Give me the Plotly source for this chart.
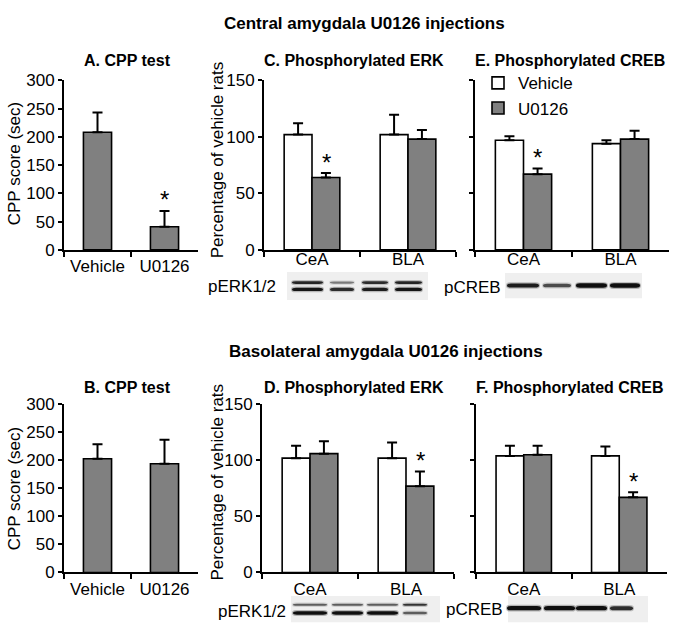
import plotly.graph_objects as go

# ---------------- data ----------------
cpp_groups = ["Vehicle", "U0126"]
regions = ["CeA", "BLA"]

# A. CPP test (central amygdala injections)
cpp_cea_mean = [208, 41]
cpp_cea_sem = [35, 28]
# B. CPP test (basolateral amygdala injections)
cpp_bla_mean = [203, 194]
cpp_bla_sem = [26, 43]

# C. pERK, CeA injections
erk_cea_vehicle = [102, 102]
erk_cea_vehicle_sem = [10, 17.5]
erk_cea_u0126 = [64, 98]
erk_cea_u0126_sem = [4, 8]
# E. pCREB, CeA injections
creb_cea_vehicle = [97, 94]
creb_cea_vehicle_sem = [3.5, 3]
creb_cea_u0126 = [67, 98]
creb_cea_u0126_sem = [5, 7.5]
# D. pERK, BLA injections
erk_bla_vehicle = [102, 102]
erk_bla_vehicle_sem = [11, 14]
erk_bla_u0126 = [106, 77]
erk_bla_u0126_sem = [11, 13]
# F. pCREB, BLA injections
creb_bla_vehicle = [104, 104]
creb_bla_vehicle_sem = [9, 8.5]
creb_bla_u0126 = [105, 67]
creb_bla_u0126_sem = [8, 4.5]

# significance markers: (panel, category)
stars_cpp = [("A", "U0126")]
stars_prot = [("C", "CeA"), ("E", "CeA"), ("D", "BLA"), ("F", "BLA")]

# western blot band intensities (lane order: Veh CeA, U0126 CeA, Veh BLA, U0126 BLA)
blot_c_upper = [0.85, 0.35, 0.8, 0.85]
blot_c_lower = [0.95, 0.8, 0.9, 0.95]
blot_e = [0.9, 0.6, 1.0, 1.0]
blot_d_upper = [0.5, 0.5, 0.5, 0.75]
blot_d_lower = [1.0, 1.0, 1.0, 0.5]
blot_f = [1.0, 1.0, 1.0, 0.8]

# ---------------- layout helpers ----------------
W, H = 677, 639
FONT = "Liberation Sans, Arial, sans-serif"
GRAY = "#808080"


def fx(p):
    return p / W


def fy(p):
    return 1 - p / H


fig = go.Figure()

panels = {
    # key: (axis index, x px domain, y px domain (bottom, top))
    "A": (1, (64, 198), (248.3, 73.5)),
    "C": (2, (264, 456), (248.3, 73.5)),
    "E": (3, (475, 669), (248.3, 73.5)),
    "B": (4, (64, 198), (580.7, 407.5)),
    "D": (5, (262, 454), (580.7, 407.5)),
    "F": (6, (476, 667), (580.7, 407.5)),
}


def ax(name, i):
    return name if i == 1 else f"{name}{i}"


def err(sem):
    return dict(type="data", array=sem, arrayminus=[0] * len(sem), symmetric=False,
                color="black", thickness=2, width=5)


bar_line = dict(color="black", width=1.6)

# CPP panels
for key, mean, sem in [("A", cpp_cea_mean, cpp_cea_sem), ("B", cpp_bla_mean, cpp_bla_sem)]:
    i = panels[key][0]
    fig.add_trace(go.Bar(x=cpp_groups, y=mean, error_y=err(sem), width=0.42,
                         marker=dict(color=GRAY, line=bar_line), showlegend=False,
                         xaxis=ax("x", i), yaxis=ax("y", i)))

# protein panels
prot = {
    "C": (erk_cea_vehicle, erk_cea_vehicle_sem, erk_cea_u0126, erk_cea_u0126_sem),
    "E": (creb_cea_vehicle, creb_cea_vehicle_sem, creb_cea_u0126, creb_cea_u0126_sem),
    "D": (erk_bla_vehicle, erk_bla_vehicle_sem, erk_bla_u0126, erk_bla_u0126_sem),
    "F": (creb_bla_vehicle, creb_bla_vehicle_sem, creb_bla_u0126, creb_bla_u0126_sem),
}
for key, (vm, vs, um, us) in prot.items():
    i = panels[key][0]
    show = key == "C"
    fig.add_trace(go.Bar(x=regions, y=vm, error_y=err(vs), name="Vehicle",
                         marker=dict(color="white", line=bar_line), showlegend=show,
                         legendgroup="veh", xaxis=ax("x", i), yaxis=ax("y", i)))
    fig.add_trace(go.Bar(x=regions, y=um, error_y=err(us), name="U0126",
                         marker=dict(color=GRAY, line=bar_line), showlegend=show,
                         legendgroup="u", xaxis=ax("x", i), yaxis=ax("y", i)))

# axes
for key, (i, (x0, x1), (yb, yt)) in panels.items():
    is_cpp = key in ("A", "B")
    xd = dict(
        domain=[fx(x0), fx(x1)], anchor=ax("y", i), type="category",
        showline=True, linecolor="black", linewidth=2, ticks="outside",
        tickson="boundaries", ticklen=5, tickwidth=2, tickcolor="black",
        tickfont=dict(size=17, color="black", family=FONT), showgrid=False,
        zeroline=False, fixedrange=True)
    if key in ("C", "E"):
        xd["ticklabelstandoff"] = -7
    fig.layout[ax("xaxis", i)] = xd
    fig.layout[ax("yaxis", i)] = dict(
        domain=[fy(yb), fy(yt)], anchor=ax("x", i),
        range=[0, 300] if is_cpp else [0, 150], dtick=50,
        showline=True, linecolor="black", linewidth=2, ticks="outside",
        ticklen=4, tickwidth=2, tickcolor="black", showgrid=False, zeroline=False,
        tickfont=dict(size=17, color="black", family=FONT),
        showticklabels=key not in ("E", "F"), fixedrange=True)

annotations = []

# y-axis titles
y_titles = [("CPP score (sec)", 14, 160), ("CPP score (sec)", 14, 495),
            ("Percentage of vehicle rats", 217, 156), ("Percentage of vehicle rats", 217, 488)]
for t, x, y in y_titles:
    annotations.append(dict(text=t, x=fx(x), y=fy(y), xref="paper", yref="paper",
                            textangle=-90, showarrow=False, xanchor="center", yanchor="middle",
                            font=dict(size=17, family=FONT, color="black")))


# significance stars anchored to bar top + error
def add_star(key, cat, y):
    i = panels[key][0]
    xshift = 0 if key in ("A", "B") else 14
    annotations.append(dict(text="*", x=cat, y=y, xref=ax("x", i), yref=ax("y", i),
                            showarrow=False, xanchor="center", yanchor="middle",
                            yshift=11, xshift=xshift,
                            font=dict(size=24, family=FONT, color="black")))


for key, cat in stars_cpp:
    j = cpp_groups.index(cat)
    add_star(key, cat, cpp_cea_mean[j] + cpp_cea_sem[j])
for key, cat in stars_prot:
    j = regions.index(cat)
    vm, vs, um, us = prot[key]
    add_star(key, cat, um[j] + us[j])

# headings
bold = dict(family=FONT, color="black")
annotations.append(dict(text="<b>Central amygdala U0126 injections</b>", x=fx(364), y=fy(15),
                        xref="paper", yref="paper", showarrow=False,
                        xanchor="center", yanchor="middle", font=dict(size=17, **bold)))
annotations.append(dict(text="<b>Basolateral amygdala U0126 injections</b>", x=fx(386), y=fy(353),
                        xref="paper", yref="paper", showarrow=False,
                        xanchor="center", yanchor="middle", font=dict(size=17, **bold)))
panel_titles = [
    ("A. CPP test", 127, 53), ("C. Phosphorylated ERK", 354, 53), ("E. Phosphorylated CREB", 570, 53),
    ("B. CPP test", 127, 390), ("D. Phosphorylated ERK", 354, 390), ("F. Phosphorylated CREB", 570, 390),
]
for t, x, y in panel_titles:
    annotations.append(dict(text=f"<b>{t}</b>", x=fx(x), y=fy(y), xref="paper", yref="paper",
                            showarrow=False, xanchor="center", yanchor="middle",
                            font=dict(size=16, **bold)))

# blot labels
for t, xr, y in [("pERK1/2", 278, 286), ("pCREB", 503, 287), ("pERK1/2", 288, 621), ("pCREB", 505, 619)]:
    annotations.append(dict(text=t, x=fx(xr), y=fy(y), xref="paper", yref="paper",
                            xanchor="right", yanchor="middle", showarrow=False,
                            font=dict(size=17, family=FONT, color="black")))

# blot drawings (decoration)
shapes = []


def band_path(x0, x1, yc, h):
    r = min(4.0, (x1 - x0) / 4)
    yt, yb = yc - h / 2, yc + h / 2
    pts = [
        f"M{fx(x0):.5f},{fy(yc):.5f}",
        f"Q{fx(x0):.5f},{fy(yt):.5f} {fx(x0 + r):.5f},{fy(yt):.5f}",
        f"L{fx(x1 - r):.5f},{fy(yt):.5f}",
        f"Q{fx(x1):.5f},{fy(yt):.5f} {fx(x1):.5f},{fy(yc):.5f}",
        f"Q{fx(x1):.5f},{fy(yb):.5f} {fx(x1 - r):.5f},{fy(yb):.5f}",
        f"L{fx(x0 + r):.5f},{fy(yb):.5f}",
        f"Q{fx(x0):.5f},{fy(yb):.5f} {fx(x0):.5f},{fy(yc):.5f}Z",
    ]
    return " ".join(pts)


def blot(area, lanes, bands):
    (ax0, ay0, ax1, ay1) = area
    shapes.append(dict(type="rect", xref="paper", yref="paper", x0=fx(ax0), x1=fx(ax1),
                       y0=fy(ay1), y1=fy(ay0), fillcolor="#efefef", line=dict(width=0), layer="below"))
    for (yc, hgt, vals) in bands:
        for (lx0, lx1), v in zip(lanes, vals):
            h = hgt * (0.6 + 0.4 * v)
            shapes.append(dict(type="path", xref="paper", yref="paper",
                               path=band_path(lx0 - 1, lx1 + 1, yc, h + 2.5),
                               fillcolor=f"rgba(40,40,40,{0.3 * v:.2f})", line=dict(width=0)))
            shapes.append(dict(type="path", xref="paper", yref="paper",
                               path=band_path(lx0, lx1, yc, h),
                               fillcolor=f"rgba(15,15,15,{0.2 + 0.8 * v:.2f})", line=dict(width=0)))


blot((287, 271, 428, 300), [(292, 323), (330, 354), (362, 388), (395, 422)],
     [(282, 3, blot_c_upper), (289, 3.5, blot_c_lower)])
blot((505, 272, 642, 298), [(507, 539), (543, 571), (576, 607), (610, 640)],
     [(285, 4.5, blot_e)])
blot((291, 605, 440, 632), [(293, 327), (332, 363), (367, 398), (403, 427)],
     [(614, 2.5, blot_d_upper), (622.5, 3.5, blot_d_lower)])
blot((508, 605, 648, 632), [(507, 541), (544, 575), (576, 607), (610, 633)],
     [(617.5, 4.5, blot_f)])

fig.update_layout(
    width=W, height=H, margin=dict(l=0, r=0, t=0, b=0),
    paper_bgcolor="white", plot_bgcolor="rgba(0,0,0,0)",
    barmode="group", bargap=0.42, bargroupgap=0,
    font=dict(family=FONT, color="black"),
    annotations=annotations, shapes=shapes,
    legend=dict(x=fx(478), y=fy(58), xanchor="left", yanchor="top",
                bgcolor="rgba(0,0,0,0)", font=dict(size=17, family=FONT, color="black"),
                traceorder="normal"),
)

fig.write_html("out.html", config={"displayModeBar": False},
               post_script="document.body.style.margin='0px';")
